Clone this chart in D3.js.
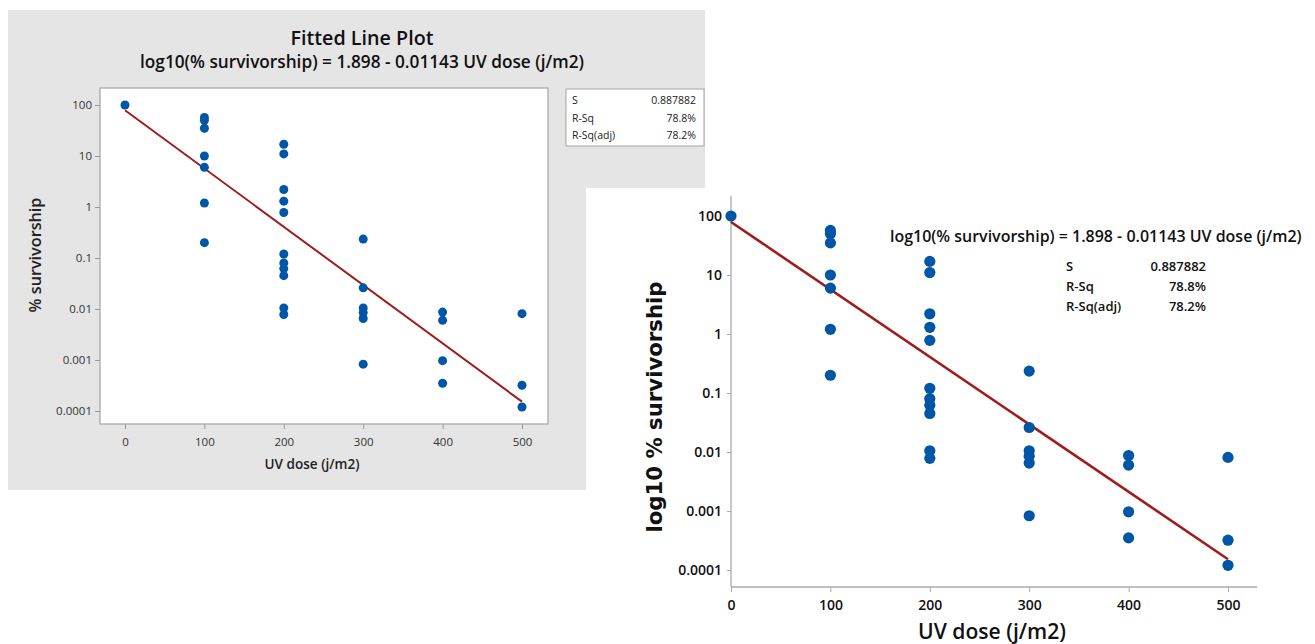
<!DOCTYPE html>
<html><head><meta charset="utf-8">
<script src="https://cdn.jsdelivr.net/npm/d3@7"></script>
<style>html,body{margin:0;padding:0;background:#fff;}svg{display:block;}</style>
</head><body>
<svg id="c" width="1315" height="644"></svg>
<script>
// ---- data ----
const doses = [0,
  100,100,100,100,100,100,100,
  200,200,200,200,200,200,200,200,200,200,200,
  300,300,300,300,300,300,
  400,400,400,400,
  500,500,500];
const survivorship = [100,
  57,50,35,10,6,1.2,0.2,
  17,11,2.2,1.3,0.78,0.12,0.08,0.062,0.045,0.0105,0.0078,
  0.235,0.026,0.0105,0.0085,0.0065,0.00083,
  0.0087,0.006,0.00097,0.00035,
  0.0081,0.00032,0.00012];
const fitIntercept = 1.898, fitSlope = -0.01143;
const fitRange = [0, 500];
const xTicks = [0,100,200,300,400,500];
const yTicks = [0.0001,0.001,0.01,0.1,1,10,100];
const yTickLabels = ["0.0001","0.001","0.01","0.1","1","10","100"];
const statNames = ["S","R-Sq","R-Sq(adj)"];
const statValues = ["0.887882","78.8%","78.2%"];
const titleText = "Fitted Line Plot";
const eqText = "log10(% survivorship) = 1.898 - 0.01143 UV dose (j/m2)";
const xLabel = "UV dose (j/m2)";
const yLabelLeft = "% survivorship";
const yLabelRight = "log10 % survivorship";

const pts = doses.map((d,i)=>({x:d, y:survivorship[i]}));
const fitPts = fitRange.map(x=>({x, y:Math.pow(10, fitIntercept + fitSlope*x)}));

const svg = d3.select("#c");
const DOT = "#0056a6", LINE = "#9e1c1c";
function fitW(sel, w){ const l = sel.node().getComputedTextLength(); const fs = parseFloat(sel.attr("font-size")); sel.attr("font-size", fs*w/l); return sel; }

// ================= LEFT (Minitab style) =================
svg.append("rect").attr("x",8).attr("y",10).attr("width",697).attr("height",480).attr("fill","#e5e5e5");
const L = svg.append("g");
const lx = d3.scaleLinear().domain([0,500]).range([125,522]);
const ly = d3.scaleLog().domain([1e-4,100]).range([411,105]);
L.append("rect").attr("x",100).attr("y",88).attr("width",448).attr("height",336).attr("fill","#fff").attr("stroke","#a3a3a3").attr("stroke-width",1.2);
const lf = "'Open Sans', 'Noto Sans', sans-serif";
fitW(L.append("text").attr("x",362).attr("y",45).attr("text-anchor","middle").attr("font-family",lf).attr("font-weight",600).attr("font-size",18).attr("fill","#111").text(titleText),143);
fitW(L.append("text").attr("x",362).attr("y",68).attr("text-anchor","middle").attr("font-family",lf).attr("font-weight",600).attr("font-size",14).attr("fill","#111").text(eqText),444);
// axes
const lax = L.append("g").attr("transform","translate(0,424)").call(d3.axisBottom(lx).tickValues(xTicks).tickSize(5).tickSizeOuter(0));
lax.select(".domain").remove();
const lay = L.append("g").attr("transform","translate(100,0)").call(d3.axisLeft(ly).tickValues(yTicks).tickFormat((d,i)=>yTickLabels[i]).tickSize(5).tickSizeOuter(0));
lay.select(".domain").remove();
[lax,lay].forEach(a=>{a.selectAll("line").attr("stroke","#999"); a.selectAll("text").attr("font-family",lf).attr("font-size",11.5).attr("fill","#333");});
lax.selectAll("text").attr("dy","1.2em");
fitW(L.append("text").attr("x",312).attr("y",469).attr("text-anchor","middle").attr("font-family",lf).attr("font-weight",600).attr("font-size",14).attr("fill","#222").text(xLabel),95);
fitW(L.append("text").attr("transform","translate(41,255) rotate(-90)").attr("text-anchor","middle").attr("font-family",lf).attr("font-weight",600).attr("font-size",14).attr("fill","#222").text(yLabelLeft),115);
// line + dots
L.append("path").datum(fitPts).attr("d",d3.line().x(d=>lx(d.x)).y(d=>ly(d.y))).attr("stroke",LINE).attr("stroke-width",2).attr("fill","none");
L.selectAll("circle.p").data(pts).join("circle").attr("cx",d=>lx(d.x)).attr("cy",d=>ly(d.y)).attr("r",4.5).attr("fill",DOT);
// stats box
L.append("rect").attr("x",566).attr("y",89).attr("width",138).attr("height",57).attr("fill","#fff").attr("stroke","#a3a3a3");
statNames.forEach((s,i)=>{
  L.append("text").attr("x",572).attr("y",104+i*17.5).attr("font-family",lf).attr("font-size",10.5).attr("fill","#222").text(s);
  L.append("text").attr("x",696).attr("y",104+i*17.5).attr("text-anchor","end").attr("font-family",lf).attr("font-size",10.5).attr("fill","#222").text(statValues[i]);
});

// ================= RIGHT =================
svg.append("rect").attr("x",586).attr("y",188).attr("width",729).attr("height",456).attr("fill","#fff");
const R = svg.append("g");
const rx = d3.scaleLinear().domain([0,500]).range([731,1228]);
const ry = d3.scaleLog().domain([1e-4,100]).range([570,216]);
const rf = "'Open Sans', 'Noto Sans', sans-serif";
R.append("line").attr("x1",731).attr("x2",731).attr("y1",196).attr("y2",587).attr("stroke","#aaa").attr("stroke-width",1.3);
R.append("line").attr("x1",731).attr("x2",1257).attr("y1",587).attr("y2",587).attr("stroke","#aaa").attr("stroke-width",1.3);
const rax = R.append("g").attr("transform","translate(0,587)").call(d3.axisBottom(rx).tickValues(xTicks).tickSize(5).tickSizeOuter(0));
const ray = R.append("g").attr("transform","translate(731,0)").call(d3.axisLeft(ry).tickValues(yTicks).tickFormat((d,i)=>yTickLabels[i]).tickSize(4).tickSizeOuter(0));
[rax,ray].forEach(a=>{a.select(".domain").remove(); a.selectAll("line").attr("stroke","#aaa"); a.selectAll("text").attr("font-family",rf).attr("font-weight",600).attr("font-size",14).attr("fill","#111");});
rax.selectAll("text").attr("dy","1.05em");
ray.selectAll("text").attr("x",-9);
fitW(R.append("text").attr("x",992).attr("y",639).attr("text-anchor","middle").attr("font-family",rf).attr("font-weight",600).attr("font-size",19).attr("fill","#111").text(xLabel),148);
fitW(R.append("text").attr("transform","translate(662,407) rotate(-90)").attr("text-anchor","middle").attr("font-family","'DejaVu Sans', Verdana, sans-serif").attr("font-weight",600).attr("font-size",18).attr("fill","#111").text(yLabelRight),251);
R.append("path").datum(fitPts).attr("d",d3.line().x(d=>rx(d.x)).y(d=>ry(d.y))).attr("stroke",LINE).attr("stroke-width",2.6).attr("fill","none");
R.selectAll("circle.p").data(pts).join("circle").attr("cx",d=>rx(d.x)).attr("cy",d=>ry(d.y)).attr("r",5.6).attr("fill",DOT);
fitW(R.append("text").attr("x",890).attr("y",242).attr("font-family",rf).attr("font-weight",600).attr("font-size",14).attr("fill","#111").text(eqText),412);
statNames.forEach((s,i)=>{
  R.append("text").attr("x",1066).attr("y",271+i*20).attr("font-family",rf).attr("font-weight",600).attr("font-size",13).attr("fill","#111").text(s);
  R.append("text").attr("x",1206).attr("y",271+i*20).attr("text-anchor","end").attr("font-family",rf).attr("font-weight",600).attr("font-size",13).attr("fill","#111").text(statValues[i]);
});
</script>
</body></html>
